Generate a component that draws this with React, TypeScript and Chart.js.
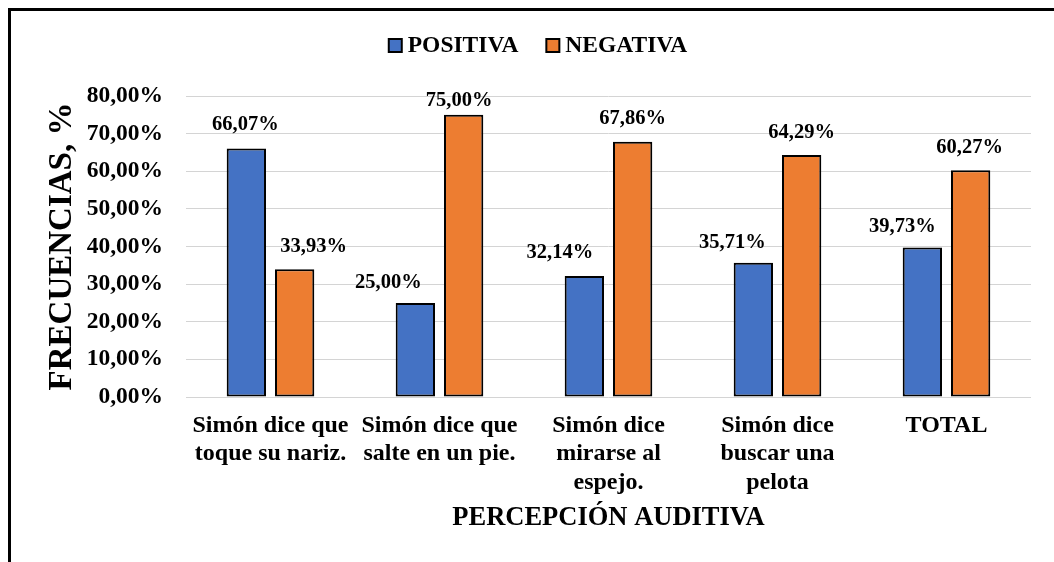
import React, { useEffect, useRef } from 'react';
import { Chart, registerables } from 'chart.js';

Chart.register(...registerables);

// ---------- data ----------
const CATEGORIES: string[][] = [
  ['Simón dice que', 'toque su nariz.'],
  ['Simón dice que', 'salte en un pie.'],
  ['Simón dice', 'mirarse al', 'espejo.'],
  ['Simón dice', 'buscar una', 'pelota'],
  ['TOTAL'],
];
const SERIES_NAMES = ['POSITIVA', 'NEGATIVA'];
const POSITIVA = [66.07, 25.0, 32.14, 35.71, 39.73];
const NEGATIVA = [33.93, 75.0, 67.86, 64.29, 60.27];
const Y_TICK_LABELS = ['0,00%', '10,00%', '20,00%', '30,00%', '40,00%', '50,00%', '60,00%', '70,00%', '80,00%'];
const Y_TITLE = 'FRECUENCIAS, %';
const X_TITLE = 'PERCEPCIÓN AUDITIVA';

// ---------- styles ----------
const FONT = "'Liberation Serif', 'Times New Roman', serif";
const COLORS = ['#4472C4', '#ED7D31'];
const W = 1046;
const H = 554;
// data-label nudges relative to bar centre / bar top (like manually moved labels)
const LABEL_NUDGES: number[][][] = [
  [[-1, -24], [-27, -20.5], [-24.5, -23], [-21, -19.5], [-20, -21]],
  [[19, -23], [-4.5, -14.5], [0, -22.5], [0, -22.5], [-1, -22.5]],
];

const fmt = (v: number) => v.toFixed(2).replace('.', ',') + '%';

const framePlugin = {
  id: 'frame',
  beforeDraw(chart: any) {
    const { ctx, width, height } = chart;
    ctx.save();
    ctx.fillStyle = '#ffffff';
    ctx.fillRect(0, 0, width, height);
    ctx.fillStyle = '#000000';
    ctx.fillRect(0, 0, width, 3);
    ctx.fillRect(0, 0, 3, height);
    ctx.restore();
  },
};

const legendPlugin = {
  id: 'topLegend',
  afterDraw(chart: any) {
    const { ctx } = chart;
    const box = 15;
    const gap = 5;
    const itemGap = 27;
    const cx = 529.5;
    const cy = 37.5;
    ctx.save();
    ctx.font = `bold 23.5px ${FONT}`;
    const items = chart.data.datasets.map((ds: any) => ({ text: ds.label, color: ds.backgroundColor }));
    const widths = items.map((it: any) => box + gap + ctx.measureText(it.text).width);
    const total = widths.reduce((a: number, b: number) => a + b, 0) + itemGap * (items.length - 1);
    let x = cx - total / 2;
    items.forEach((it: any, i: number) => {
      ctx.fillStyle = '#000';
      ctx.fillRect(x, cy - box / 2, box, box);
      ctx.fillStyle = it.color;
      ctx.fillRect(x + 2, cy - box / 2 + 2, box - 4, box - 4);
      ctx.fillStyle = '#000';
      ctx.textAlign = 'left';
      ctx.textBaseline = 'middle';
      ctx.fillText(it.text, x + box + gap, cy);
      x += widths[i] + itemGap;
    });
    ctx.restore();
  },
};

const dataLabelPlugin = {
  id: 'dataLabels',
  afterDatasetsDraw(chart: any) {
    const { ctx } = chart;
    ctx.save();
    ctx.font = `bold 20.5px ${FONT}`;
    ctx.fillStyle = '#000';
    ctx.textAlign = 'center';
    ctx.textBaseline = 'middle';
    chart.data.datasets.forEach((ds: any, di: number) => {
      const meta = chart.getDatasetMeta(di);
      meta.data.forEach((el: any, j: number) => {
        const [dx, dy] = LABEL_NUDGES[di][j];
        ctx.fillText(fmt(ds.data[j]), el.x + dx, el.y + dy);
      });
    });
    ctx.restore();
  },
};

export default function App() {
  const ref = useRef<HTMLCanvasElement | null>(null);

  useEffect(() => {
    if (!ref.current) return;
    const chart = new Chart(ref.current, {
      type: 'bar',
      data: {
        labels: CATEGORIES,
        datasets: [
          {
            label: SERIES_NAMES[0],
            data: POSITIVA,
            backgroundColor: COLORS[0],
            borderColor: '#000',
            borderWidth: 2,
            borderSkipped: false,
            barPercentage: 0.814,
            categoryPercentage: 0.5716,
          },
          {
            label: SERIES_NAMES[1],
            data: NEGATIVA,
            backgroundColor: COLORS[1],
            borderColor: '#000',
            borderWidth: 2,
            borderSkipped: false,
            barPercentage: 0.814,
            categoryPercentage: 0.5716,
          },
        ],
      },
      options: {
        responsive: false,
        animation: false,
        devicePixelRatio: 1,
        layout: { padding: { top: 88, right: 23, bottom: 28.3, left: 0 } },
        plugins: {
          legend: { display: false },
          title: { display: false },
          tooltip: { enabled: false },
        },
        scales: {
          x: {
            grid: { display: false, drawTicks: false },
            border: { display: false },
            ticks: {
              color: '#000',
              font: { family: FONT, size: 24, weight: 'bold', lineHeight: 1.19 },
              padding: 14.25,
              maxRotation: 0,
              minRotation: 0,
              autoSkip: false,
            },
            title: {
              display: true,
              text: X_TITLE,
              color: '#000',
              font: { family: FONT, size: 26.5, weight: 'bold', lineHeight: 1.2 },
              padding: { top: 0, bottom: 0 },
            },
            afterFit(scale: any) {
              scale.height = 136.7;
            },
          },
          y: {
            min: 0,
            max: 80,
            grid: { color: '#d4d4d4', lineWidth: 1, drawTicks: false },
            border: { display: false },
            ticks: {
              stepSize: 10,
              color: '#000',
              font: { family: FONT, size: 23.5, weight: 'bold' },
              padding: 23,
              callback: (_v: any, i: number) => Y_TICK_LABELS[i],
            },
            title: {
              display: true,
              text: Y_TITLE,
              color: '#000',
              font: { family: FONT, size: 33, weight: 'bold', lineHeight: 1.2 },
              padding: { top: 34.7, bottom: 0 },
            },
            afterFit(scale: any) {
              scale.width = 178;
            },
          },
        },
      },
      plugins: [framePlugin, legendPlugin, dataLabelPlugin],
    } as any);
    return () => chart.destroy();
  }, []);

  return (
    <div style={{ position: 'fixed', left: 8, top: 8, width: W, height: H }}>
      <canvas ref={ref} width={W} height={H} style={{ display: 'block', width: W, height: H }} />
    </div>
  );
}
